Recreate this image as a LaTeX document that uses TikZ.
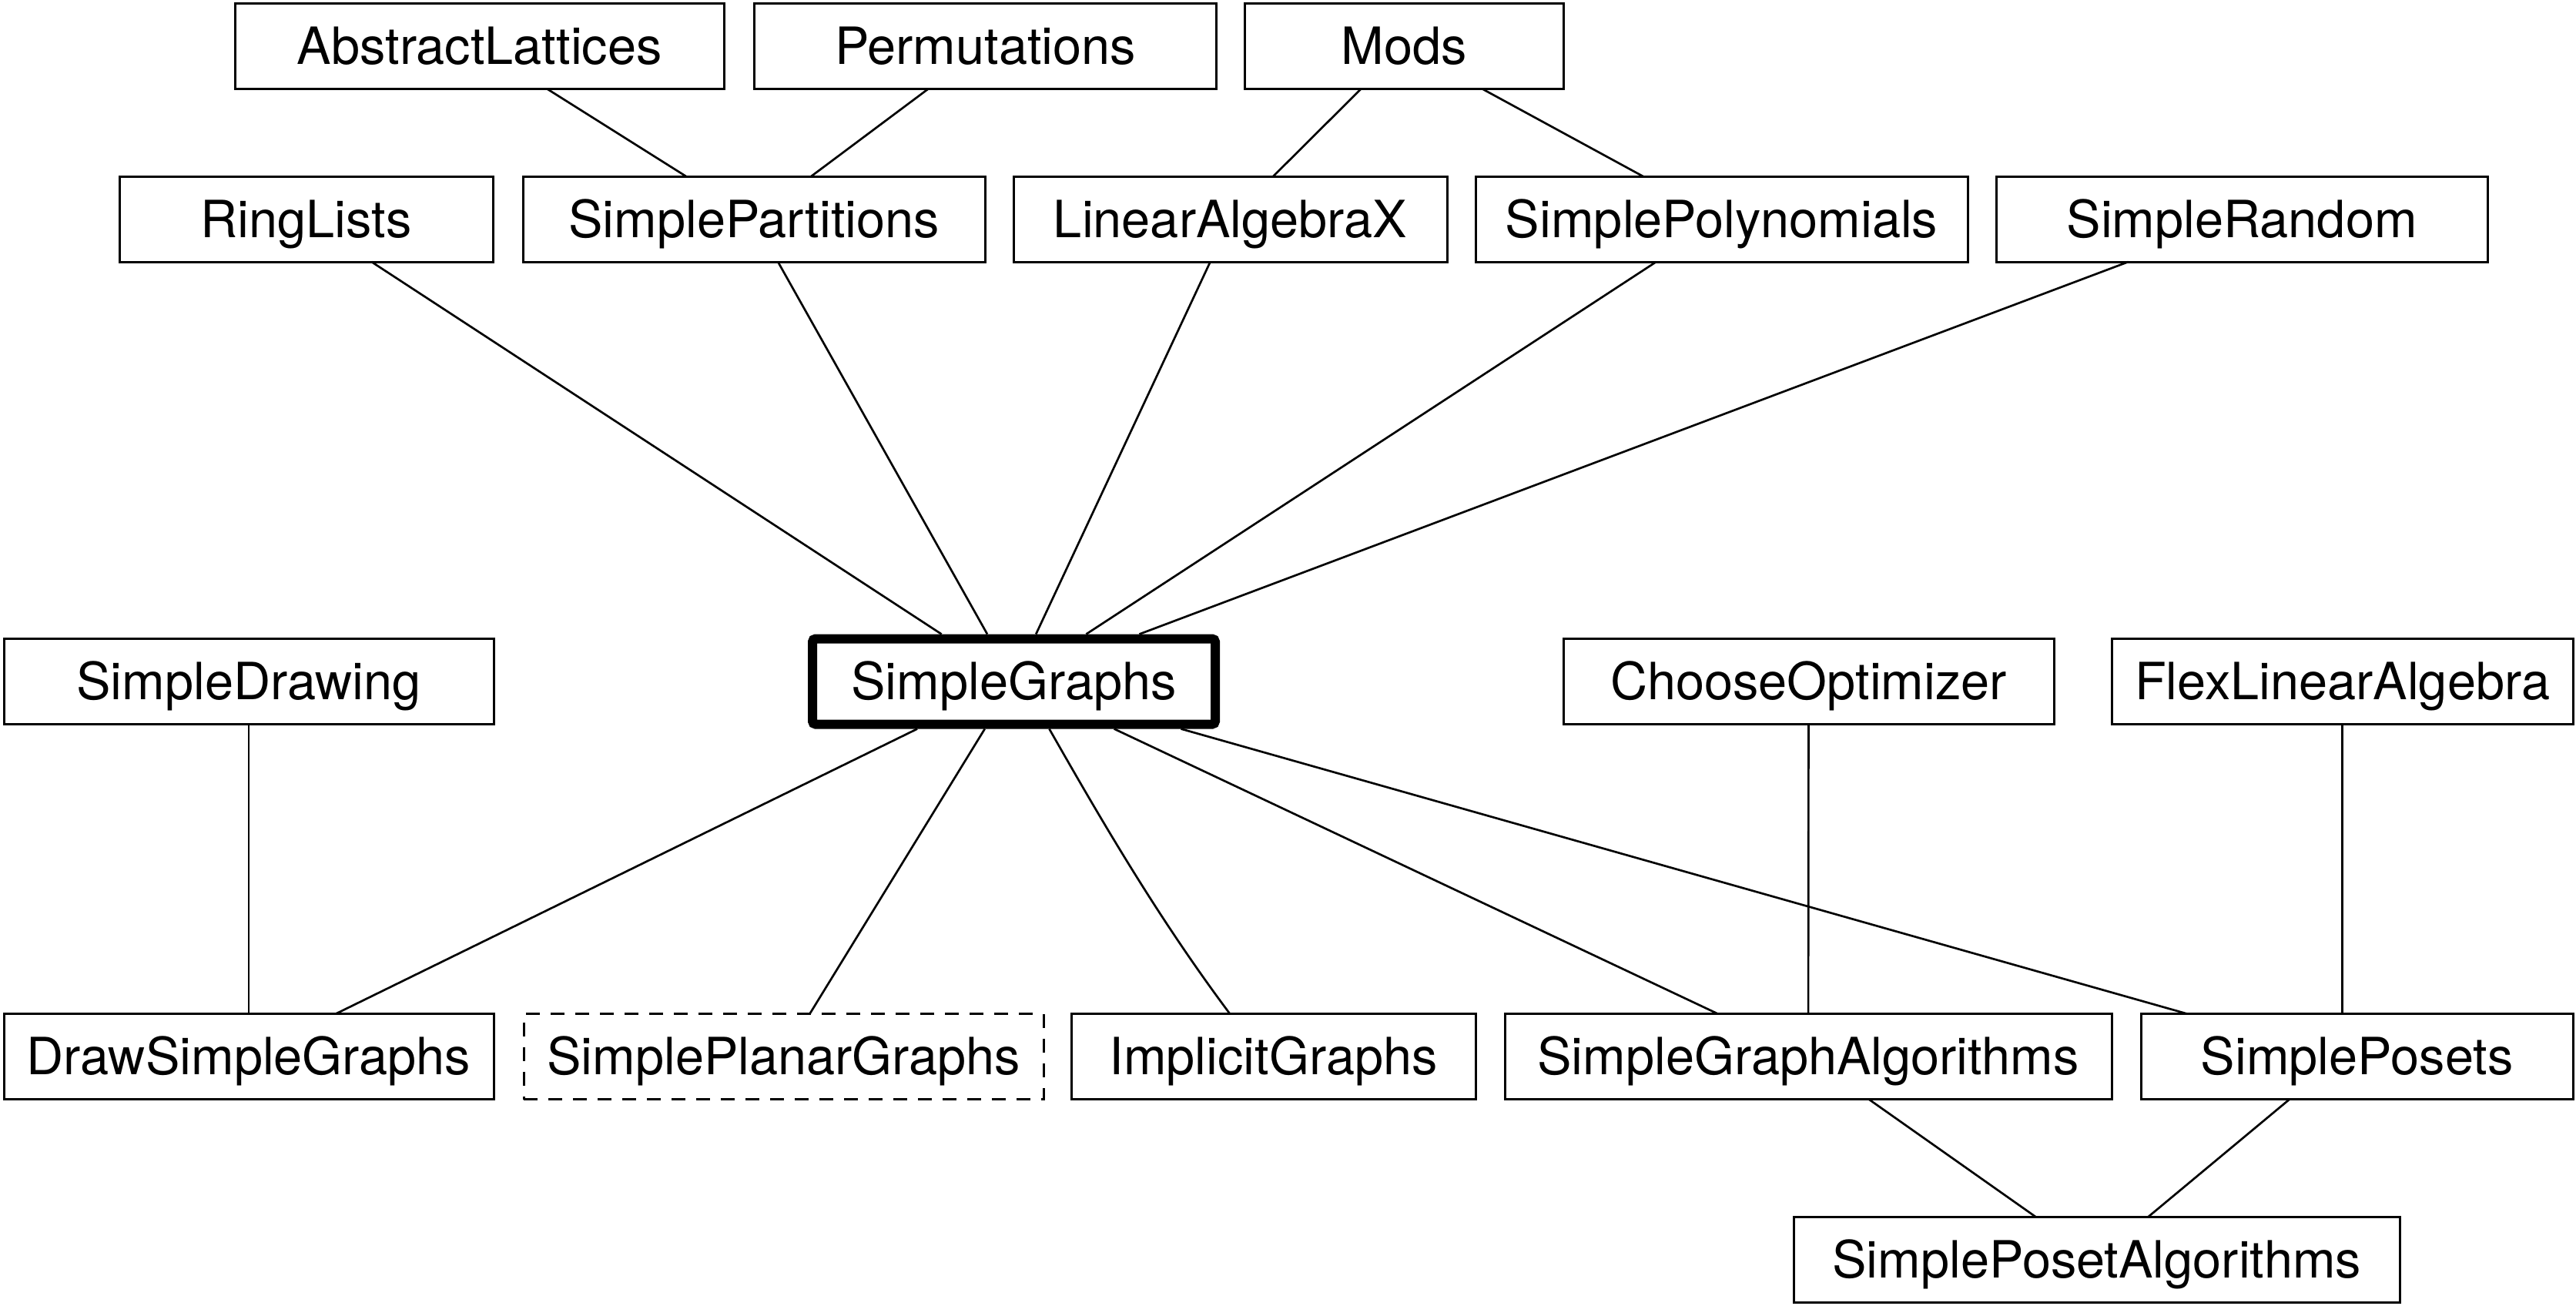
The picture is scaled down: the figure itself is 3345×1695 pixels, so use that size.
\documentclass[tikz,border=0pt]{standalone}
\usepackage{fontspec}
\setmainfont{TeX Gyre Heros}
\begin{document}
\begin{tikzpicture}[x=0.3pt,y=-0.3pt,
  mod/.style={draw, line width=0.9pt, minimum height=33.3pt, inner sep=0pt, outer sep=0pt,
    font=\fontsize{20}{24}\selectfont, text height=14.3pt, text depth=0pt, anchor=center},
  mainmod/.style={mod, line width=3.6pt, rounded corners=1.2pt, outer sep=1.8pt},
  planned/.style={mod, dash pattern=on 5.4pt off 4.2pt},
  edge/.style={line width=0.8pt}]
\useasboundingbox (0,0) rectangle (3345,1695);
% row 1
\node[mod, minimum width=190.5pt] (AL) at (622.5,60) {AbstractLattices};
\node[mod, minimum width=180pt] (Perm) at (1279.5,60) {Permutations};
\node[mod, minimum width=124.2pt] (Mods) at (1823,60) {Mods};
% row 2
\node[mod, minimum width=145.5pt] (RL) at (397.5,284.5) {RingLists};
\node[mod, minimum width=180pt] (SP) at (979,284.5) {SimplePartitions};
\node[mod, minimum width=168.9pt] (LAX) at (1597.5,284.5) {LinearAlgebraX};
\node[mod, minimum width=191.7pt] (SPol) at (2235.5,284.5) {SimplePolynomials};
\node[mod, minimum width=191.4pt] (SR) at (2911,284.5) {SimpleRandom};
% row 3
\node[mod, minimum width=190.8pt] (SD) at (323,885) {SimpleDrawing};
\node[mainmod, minimum width=156.9pt] (SG) at (1316.5,885) {SimpleGraphs};
\node[mod, minimum width=191.1pt] (CO) at (2348.5,885) {ChooseOptimizer};
\node[mod, minimum width=179.7pt] (FLA) at (3041.5,885) {FlexLinearAlgebra};
% row 4
\node[mod, minimum width=190.8pt] (DSG) at (323,1372) {DrawSimpleGraphs};
\node[planned, minimum width=202.5pt] (SPG) at (1017.5,1372) {SimplePlanarGraphs};
\node[mod, minimum width=157.5pt] (IG) at (1653.5,1372) {ImplicitGraphs};
\node[mod, minimum width=236.4pt] (SGA) at (2348,1372) {SimpleGraphAlgorithms};
\node[mod, minimum width=168.3pt] (SPo) at (3060.5,1372) {SimplePosets};
% row 5
\node[mod, minimum width=236.1pt] (SPA) at (2722.5,1636) {SimplePosetAlgorithms};
% edges
\draw[edge] (AL) -- (SP);
\draw[edge] (Perm) -- (SP);
\draw[edge] (Mods) -- (LAX);
\draw[edge] (Mods) -- (SPol);
\draw[edge] (RL) -- (SG);
\draw[edge] (SP) -- (SG);
\draw[edge] (LAX) -- (SG);
\draw[edge] (SPol) -- (SG);
\draw[edge] (SR) -- (SG);
\draw[edge] (SD) -- (DSG);
\draw[edge] (CO) -- (SGA);
\draw[edge] (FLA) -- (FLA |- SPo.north);
\draw[edge] (SG) -- (DSG);
\draw[edge] (SG) -- (SPG);
\draw[edge] ([xshift=13.8pt]SG.south) .. controls +(21pt,-36.9pt) and +(-27.6pt,36.9pt) .. ([xshift=-16.95pt]IG.north);
\draw[edge] (SG) -- (SGA);
\draw[edge] (SG) -- ([xshift=-66.15pt]SPo.north);
\draw[edge] (SGA) -- (SPA);
\draw[edge] ([xshift=-26.25pt]SPo.south) -- (SPA);
\end{tikzpicture}
\end{document}
